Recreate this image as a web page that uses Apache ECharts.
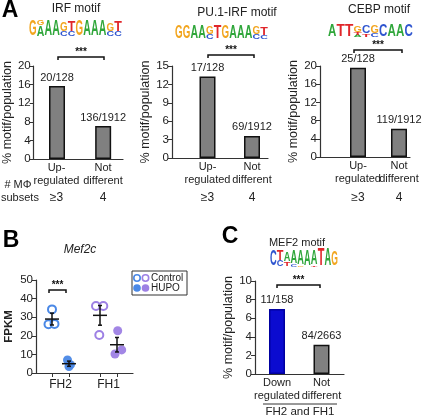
<!DOCTYPE html>
<html>
<head>
<meta charset="utf-8">
<script src="https://cdn.jsdelivr.net/npm/echarts@6/dist/echarts.min.js"></script>
<style>
  html, body { margin: 0; padding: 0; background: #fff; }
  #chart { width: 433px; height: 418px; }
</style>
</head>
<body>
<div id="chart"></div>
<script>
// ---- data ----
const upLabels = ['Up-\nregulated', 'Not\ndifferent'];
const downLabels = ['Down\nregulated', 'Not\ndifferent'];
const subsetCounts = ['≥3', '4'];

const irfPct = [15.7, 7.1];
const irfRatio = ['20/128', '136/1912'];
const pu1Pct = [13.3, 3.6];
const pu1Ratio = ['17/128', '69/1912'];
const cebpPct = [19.6, 6.2];
const cebpRatio = ['25/128', '119/1912'];
const mef2Pct = [7.0, 3.15];
const mef2Ratio = ['11/158', '84/2663'];

const bGroups = ['FH2', 'FH1'];
const controlFH2 = [34.2, 26.2, 26.4];
const hupoFH2 = [7.0, 4.5, 3.5];
const controlFH1 = [36.0, 36.0, 20.4];
const hupoFH1 = [22.7, 12.4, 10.2];
const bMeans = [29.0, 5.0, 31.0, 15.2];
const bSems = [3.2, 1.4, 5.3, 3.9];

// ---- look ----
const FONT = 'Arial, "Liberation Sans", sans-serif';
const INK = '#222';
const AXIS = '#333';
const GREY = '#808080';
const BLUE_BAR = '#0b0bd0';
const C_FH2 = '#4a88e6';
const C_FH1 = '#9d80e4';
const LETTER = { A: '#2fa63a', C: '#2f55cf', G: '#f2a51e', T: '#e0262a' };
const LETTER_W = { A: 0.722, C: 0.722, G: 0.778, T: 0.611 };

// bar panels: grid box, bar slots along x (px from axis start)
const barPanels = [
  { grid: { left: 33, top: 66, width: 90, height: 93 }, slots: [23.5, 70], max: 20, step: 4,
    pct: irfPct, ratio: irfRatio, labels: upLabels, colors: [GREY, GREY] },
  { grid: { left: 172, top: 66, width: 96, height: 92 }, slots: [35.5, 80], max: 15, step: 3,
    pct: pu1Pct, ratio: pu1Ratio, labels: upLabels, colors: [GREY, GREY] },
  { grid: { left: 320, top: 66, width: 90, height: 91 }, slots: [38, 79], max: 20, step: 4,
    pct: cebpPct, ratio: cebpRatio, labels: upLabels, colors: [GREY, GREY] },
  { grid: { left: 255, top: 281, width: 89, height: 93 }, slots: [22, 66.5], max: 10, step: 2,
    pct: mef2Pct, ratio: mef2Ratio, labels: downLabels, colors: [BLUE_BAR, GREY] }
];

const bGrid = { left: 36, top: 280, width: 97, height: 93 };
const bSlots = [16, 33, 64, 81];
const bLabelSlots = [24.5, 72.5];
const bJitter = [[0, -3.5, 2.5], [-1.5, 1.5, 0], [-4, 3.3, -0.7], [0.7, 4.7, -2]];

function nearest(arr, v) {
  let best = 0;
  arr.forEach((a, i) => { if (Math.abs(a - v) < Math.abs(arr[best] - v)) best = i; });
  return best;
}

const grids = [], xAxes = [], yAxes = [], series = [];

barPanels.forEach((p, i) => {
  grids.push(p.grid);
  xAxes.push({
    gridIndex: i, type: 'value', min: 0, max: p.grid.width,
    axisLine: { show: true, lineStyle: { color: AXIS, width: 1.2 } },
    axisTick: { show: false },
    splitLine: { show: false },
    axisLabel: { show: false }
  });
  yAxes.push({
    gridIndex: i, type: 'value', min: 0, max: p.max, interval: p.step,
    name: '% motif/population', nameLocation: 'middle', nameGap: 18,
    nameTextStyle: { fontFamily: FONT, fontSize: 12.5, color: INK },
    axisLine: { show: true, lineStyle: { color: AXIS, width: 1.2 } },
    axisTick: { show: true, length: 4, lineStyle: { color: AXIS } },
    axisLabel: { fontFamily: FONT, fontSize: 11.5, color: INK, margin: 3 },
    splitLine: { show: false }
  });
  series.push({
    type: 'bar', xAxisIndex: i, yAxisIndex: i, barWidth: 16,
    data: p.pct.map((v, k) => ({
      value: [p.slots[k], v],
      itemStyle: { color: p.colors[k], borderColor: p.colors[k] === GREY ? '#111' : '#0000a0', borderWidth: 1.5 }
    })),
    label: {
      show: true, position: 'top', distance: 3, fontFamily: FONT, fontSize: 11, color: INK,
      formatter: q => p.ratio[q.dataIndex]
    }
  });
});

// panel B
const bi = barPanels.length;
grids.push(bGrid);
xAxes.push({
  gridIndex: bi, type: 'value', min: 0, max: bGrid.width,
  axisLine: { show: true, lineStyle: { color: AXIS, width: 1.2 } },
  axisTick: { show: true, customValues: bSlots, length: 4, lineStyle: { color: AXIS } },
  splitLine: { show: false },
  axisLabel: {
    customValues: bLabelSlots, margin: 6, fontFamily: FONT, fontSize: 12, color: INK,
    formatter: v => bGroups[nearest(bLabelSlots, v)]
  }
});
yAxes.push({
  gridIndex: bi, type: 'value', min: 0, max: 50, interval: 10,
  name: 'FPKM', nameLocation: 'middle', nameGap: 21,
  nameTextStyle: { fontFamily: FONT, fontSize: 11.5, fontWeight: 'bold', color: INK },
  axisLine: { show: true, lineStyle: { color: AXIS, width: 1.2 } },
  axisTick: { show: true, length: 4, lineStyle: { color: AXIS } },
  axisLabel: { fontFamily: FONT, fontSize: 11.5, color: INK, margin: 3 },
  splitLine: { show: false }
});

const bSets = [
  { vals: controlFH2, color: C_FH2, open: true },
  { vals: hupoFH2, color: C_FH2, open: false },
  { vals: controlFH1, color: C_FH1, open: true },
  { vals: hupoFH1, color: C_FH1, open: false }
];
bSets.forEach((s, g) => {
  series.push({
    type: 'scatter', xAxisIndex: bi, yAxisIndex: bi, symbol: 'circle', symbolSize: s.open ? 8 : 9,
    data: s.vals.map((v, k) => [bSlots[g] + bJitter[g][k], v]),
    itemStyle: s.open
      ? { color: '#fff', borderColor: s.color, borderWidth: 2, opacity: 1 }
      : { color: s.color, opacity: 0.95 },
    z: 3
  });
});
series.push({
  type: 'custom', xAxisIndex: bi, yAxisIndex: bi, z: 10,
  data: bMeans.map((m, k) => [bSlots[k], m, bSems[k]]),
  renderItem: (params, api) => {
    const x = api.value(0), m = api.value(1), s = api.value(2);
    const c = api.coord([x, m]), hi = api.coord([x, m + s]), lo = api.coord([x, m - s]);
    const st = { stroke: '#111', lineWidth: 1.5 };
    return {
      type: 'group', children: [
        { type: 'line', shape: { x1: c[0] - 7, y1: c[1], x2: c[0] + 7, y2: c[1] }, style: st },
        { type: 'line', shape: { x1: c[0], y1: hi[1], x2: c[0], y2: lo[1] }, style: st },
        { type: 'line', shape: { x1: c[0] - 2, y1: hi[1], x2: c[0] + 2, y2: hi[1] }, style: st },
        { type: 'line', shape: { x1: c[0] - 2, y1: lo[1], x2: c[0] + 2, y2: lo[1] }, style: st }
      ]
    };
  }
});

// ---- decorations ----
function txt(x, y, text, font, opts) {
  return {
    type: 'text', x: x, y: y,
    style: Object.assign({
      text: text, font: font, fill: INK,
      align: 'center', textAlign: 'center', verticalAlign: 'middle', textVerticalAlign: 'middle'
    }, opts || {})
  };
}
function bracket(x1, x2, y) {
  return [
    { type: 'polyline', shape: { points: [[x1, y + 3], [x1, y], [x2, y], [x2, y + 3]] },
      style: { stroke: '#111', lineWidth: 1.5, fill: null } },
    txt((x1 + x2) / 2, y - 5, '***', 'bold 10px ' + FONT, { fill: '#111' })
  ];
}
function logo(x0, y0, w, h, cols) {
  const cw = w / cols.length, out = [];
  cols.forEach((stack, i) => {
    let yb = y0 + h;
    stack.forEach(([ch, f]) => {
      const lh = h * f;
      out.push({
        type: 'text', x: x0 + cw * (i + 0.5), y: yb - lh / 2,
        scaleX: (cw * 0.98) / (LETTER_W[ch] * 20), scaleY: lh / 14.4,
        style: { text: ch, font: 'bold 20px ' + FONT, fill: LETTER[ch],
          align: 'center', textAlign: 'center', verticalAlign: 'middle', textVerticalAlign: 'middle' }
      });
      yb -= lh;
    });
  });
  return out;
}

const irfLogo = [[['G', 0.95]], [['A', 0.65], ['G', 0.3]], [['A', 0.95]], [['A', 0.95]],
  [['C', 0.3], ['G', 0.55]], [['C', 0.3], ['T', 0.6]], [['G', 0.95]], [['A', 0.95]],
  [['A', 0.95]], [['A', 0.95]], [['C', 0.3], ['G', 0.5]], [['C', 0.3], ['T', 0.6]]];
const pu1Logo = [[['G', 0.9]], [['G', 0.9]], [['A', 0.9]], [['A', 0.9]],
  [['C', 0.35], ['G', 0.55]], [['T', 0.9]], [['G', 0.9]], [['A', 0.9]],
  [['A', 0.9]], [['A', 0.9]], [['C', 0.35], ['G', 0.5]], [['C', 0.3], ['T', 0.55]]];
const cebpLogo = [[['A', 0.95]], [['T', 0.95]], [['T', 0.95]], [['A', 0.15], ['T', 0.2], ['G', 0.5]],
  [['T', 0.2], ['C', 0.6]], [['C', 0.25], ['G', 0.6]], [['C', 0.95]], [['A', 0.95]],
  [['A', 0.95]], [['C', 0.9]]];
const mef2Logo = [[['C', 0.9]], [['C', 0.35], ['T', 0.55]], [['T', 0.25], ['A', 0.5]],
  [['C', 0.15], ['A', 0.7]], [['G', 0.1], ['A', 0.8]], [['A', 0.9]], [['T', 0.1], ['A', 0.8]],
  [['T', 0.95]], [['A', 0.95]], [['G', 0.8]]];

let gfx = [];
gfx.push(txt(10, 11, 'A', 'bold 23px ' + FONT, { fill: '#000' }));
gfx.push(txt(11, 241, 'B', 'bold 23px ' + FONT, { fill: '#000' }));
gfx.push(txt(230, 237, 'C', 'bold 23px ' + FONT, { fill: '#000' }));

gfx.push(txt(76, 9, 'IRF motif', '12px ' + FONT));
gfx.push(txt(237, 13, 'PU.1-IRF motif', '12px ' + FONT));
gfx.push(txt(379, 10, 'CEBP motif', '12px ' + FONT));
gfx.push(txt(297, 243, 'MEF2 motif', '11px ' + FONT));
gfx.push(txt(80, 250, 'Mef2c', 'italic 12px ' + FONT));

gfx = gfx.concat(logo(29, 20, 93, 17, irfLogo));
gfx = gfx.concat(logo(175, 25, 93, 15, pu1Logo));
gfx = gfx.concat(logo(328, 24, 85, 13, cebpLogo));
gfx = gfx.concat(logo(270, 249, 68, 18, mef2Logo));

gfx = gfx.concat(bracket(58, 104, 57));
gfx = gfx.concat(bracket(208, 254, 55));
gfx = gfx.concat(bracket(354, 402, 50));
gfx = gfx.concat(bracket(49, 66, 290));
gfx = gfx.concat(bracket(277, 320, 285));

// category labels under the bar panels
barPanels.forEach(p => {
  p.slots.forEach((s, k) => gfx.push(txt(p.grid.left + s, p.grid.top + p.grid.height + 2, p.labels[k], '11px ' + FONT,
    { verticalAlign: 'top', textVerticalAlign: 'top', lineHeight: 13.5 })));
});

// subsets row
gfx.push(txt(18, 185, '# MΦ', '11px ' + FONT));
gfx.push(txt(1, 198, 'subsets', '11px ' + FONT, { align: 'left', textAlign: 'left' }));
barPanels.slice(0, 3).forEach(p => {
  p.slots.forEach((s, k) => gfx.push(txt(p.grid.left + s, 198, subsetCounts[k], '12px ' + FONT)));
});

// panel C footer
gfx.push({ type: 'line', shape: { x1: 263, y1: 404, x2: 337, y2: 404 }, style: { stroke: '#333', lineWidth: 1 } });
gfx.push(txt(300, 412, 'FH2 and FH1', '11.5px ' + FONT));

// panel B legend
gfx.push({ type: 'rect', shape: { x: 132, y: 271, width: 55, height: 24 }, style: { fill: '#fff', stroke: '#333', lineWidth: 1 } });
[[C_FH2, 137], [C_FH1, 145.5]].forEach(([c, x]) => {
  gfx.push({ type: 'circle', shape: { cx: x, cy: 278, r: 3.2 }, style: { fill: '#fff', stroke: c, lineWidth: 1.6 } });
  gfx.push({ type: 'circle', shape: { cx: x, cy: 288, r: 3.8 }, style: { fill: c } });
});
gfx.push(txt(151, 278, 'Control', '10px ' + FONT, { align: 'left', textAlign: 'left' }));
gfx.push(txt(151, 288, 'HUPO', '10px ' + FONT, { align: 'left', textAlign: 'left' }));

const chart = echarts.init(document.getElementById('chart'));
chart.setOption({
  animation: false,
  backgroundColor: '#fff',
  grid: grids,
  xAxis: xAxes,
  yAxis: yAxes,
  series: series,
  graphic: { elements: gfx }
});
</script>
</body>
</html>
